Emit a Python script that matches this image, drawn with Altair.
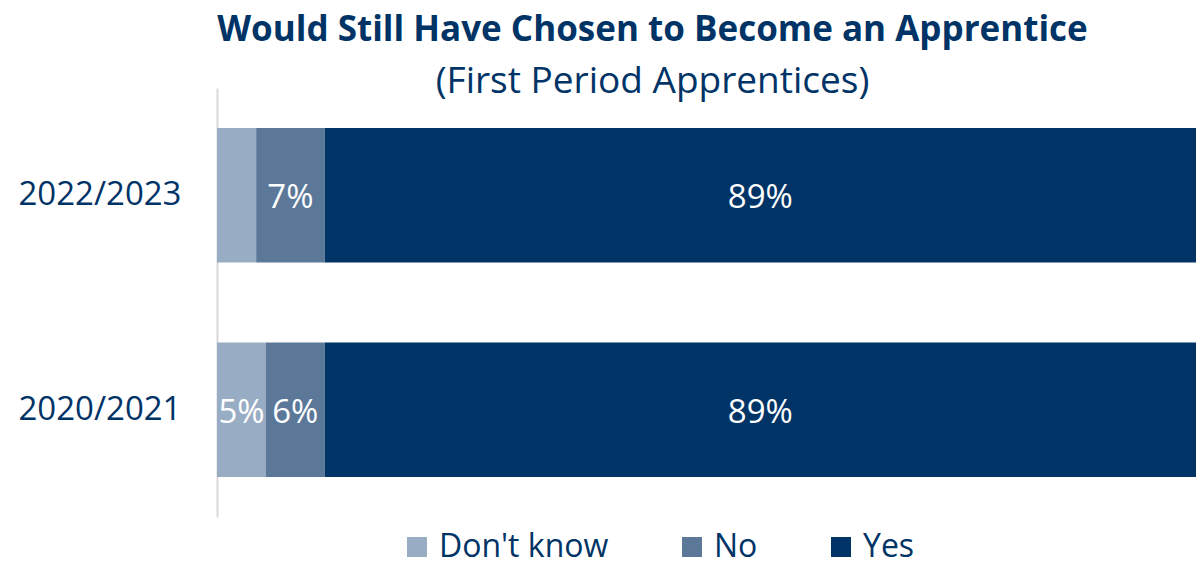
import altair as alt
import pandas as pd

periods = ["2022/2023", "2022/2023", "2022/2023", "2020/2021", "2020/2021", "2020/2021"]
responses = ["Don't know", "No", "Yes", "Don't know", "No", "Yes"]
values = [4, 7, 89, 5, 6, 89]
show_label = [False, True, True, True, True, True]
period_order = ["2022/2023", "2020/2021"]
response_order = ["Don't know", "No", "Yes"]
colors = ["#98adc4", "#5b7899", "#003366"]
navy = "#003366"

df = pd.DataFrame({
    "period": periods,
    "response": responses,
    "value": values,
    "order": [response_order.index(r) for r in responses],
    "label": [f"{v}%" if s else "" for v, s in zip(values, show_label)],
})

base = alt.Chart(df).transform_stack(
    stack="value", as_=["x0", "x1"], groupby=["period"],
    sort=[alt.SortField("order", order="ascending")]
).transform_calculate(mid="(datum.x0 + datum.x1) / 2")

y_enc = alt.Y(
    "period:N", sort=period_order,
    scale=alt.Scale(paddingInner=0.374, paddingOuter=0.187),
    axis=alt.Axis(title=None, domainColor="#d9d9d9", domainWidth=2, ticks=False,
                  grid=False, labelFontSize=33, labelFont="Open Sans",
                  labelColor=navy, labelPadding=36),
)

bars = base.mark_bar().encode(
    y=y_enc,
    x=alt.X("x0:Q", scale=alt.Scale(domain=[0, 100], nice=False), axis=None),
    x2="x1:Q",
    color=alt.Color(
        "response:N", sort=response_order,
        scale=alt.Scale(domain=response_order, range=colors),
        legend=alt.Legend(
            title=None, orient="none", direction="horizontal",
            legendX=184, legendY=443, padding=0,
            symbolType="square", symbolSize=400, symbolStrokeWidth=0,
            labelFontSize=32, labelFont="Open Sans", labelColor=navy,
            labelOffset=6, columnPadding=67, labelLimit=0,
        ),
    ),
)

text = base.mark_text(color="white", font="Open Sans", fontSize=33, dy=3).encode(
    y=alt.Y("period:N", sort=period_order),
    x=alt.X("mid:Q"),
    text="label:N",
)

chart = (bars + text).properties(
    width=979,
    height=429,
    autosize=alt.AutoSizeParams(type="none"),
    padding={"left": 209, "top": 80, "right": 0, "bottom": 42},
    title=alt.TitleParams(
        text="Would Still Have Chosen to Become an Apprentice",
        subtitle="(First Period Apprentices)",
        font="Open Sans", fontSize=35, fontWeight="bold", color=navy,
        subtitleFont="Open Sans", subtitleFontSize=37, subtitleColor=navy,
        anchor="middle", dx=-54, offset=-12, subtitlePadding=16,
    ),
).configure_view(stroke=None)

chart.save("out.html", embed_options={"renderer": "svg", "actions": False})
